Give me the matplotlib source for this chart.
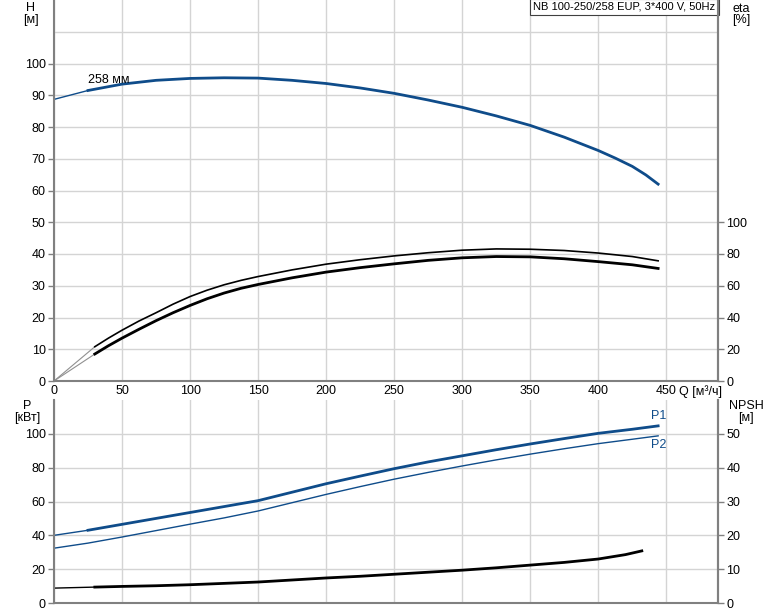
#!/usr/bin/env python3
"""Pump curve sheet: NB 100-250/258 EUP - H, eta, P1/P2 and NPSH vs flow."""

import matplotlib
matplotlib.use('Agg')
import matplotlib.pyplot as plt

plt.rcParams['font.family'] = ['Liberation Sans', 'DejaVu Sans']
plt.rcParams['font.size'] = 9

# Flow rates, m3/h
Q_H = [0, 25, 50, 75, 100, 125, 150, 175, 200, 225, 250, 275, 300, 325, 350, 375, 400, 412.5, 425, 435, 444]
H = [88.7, 91.5, 93.5, 94.7, 95.3, 95.5, 95.4, 94.7, 93.7, 92.3, 90.6, 88.5, 86.2, 83.5, 80.5, 76.8,
     72.6, 70.2, 67.6, 64.9, 62.0]

# efficiency curves, %
Q_ETA = [30, 40, 50, 62.5, 75, 87.5, 100, 112.5, 125, 137.5, 150, 175, 200, 225, 250, 275, 300, 325,
         350, 375, 400, 425, 444]
ETA_UPPER = [21.6, 27.0, 32.0, 37.8, 43.0, 48.4, 53.2, 57.2, 60.6, 63.4, 65.8, 70.0, 73.6, 76.4,
             78.8, 80.8, 82.4, 83.2, 83.0, 82.2, 80.6, 78.4, 75.7]
ETA_LOWER = [17.0, 22.2, 27.0, 32.6, 38.0, 43.0, 47.6, 51.8, 55.4, 58.4, 60.8, 65.0, 68.6, 71.4,
             73.8, 76.0, 77.6, 78.4, 78.2, 77.0, 75.2, 73.2, 70.9]

# power, kW
Q_P = [0, 25, 50, 75, 100, 125, 150, 175, 200, 225, 250, 275, 300, 325, 350, 375, 400, 425, 444]
P1 = [40.0, 43.0, 46.5, 50.0, 53.5, 57.0, 60.5, 65.5, 70.5, 75.0, 79.4, 83.4, 87.0, 90.6, 94.0,
      97.2, 100.3, 102.7, 104.7]
P2 = [32.4, 35.4, 39.0, 42.8, 46.6, 50.3, 54.4, 59.3, 64.2, 68.8, 73.2, 77.2, 81.0, 84.6, 88.0,
      91.2, 94.2, 96.8, 98.8]

# NPSH, m
Q_NPSH = [0, 30, 50, 75, 100, 125, 150, 175, 200, 225, 250, 275, 300, 325, 350, 375, 400, 420, 432]
NPSH = [4.4, 4.7, 4.9, 5.1, 5.4, 5.8, 6.2, 6.8, 7.4, 7.9, 8.5, 9.1, 9.7, 10.4, 11.2, 12.0, 13.0,
        14.3, 15.4]

THICK_FROM = 30  # curves are drawn thin below this flow
BLUE = '#0f4c8a'
GRID = '#d4d4d4'
SPINE = '#808080'

W, HGT = 774, 611
fig = plt.figure(figsize=(W / 100, HGT / 100), dpi=100)

left = 54 / W
width = (718 - 54) / W
ax1 = fig.add_axes([left, 1 - 381 / HGT, width, 381 / HGT])
ax2 = fig.add_axes([left, 1 - 603 / HGT, width, (603 - 400) / HGT])


def split(q, v):
    """Return (thin part, thick part) of a curve."""
    thin_q = [x for x in q if x <= THICK_FROM]
    thin_v = v[:len(thin_q)]
    i0 = len(thin_q) - 1
    return (thin_q, thin_v), (q[i0:], v[i0:])


def style_axes(ax, ymax):
    ax.set_xlim(0, 488)
    ax.set_ylim(0, ymax)
    ax.grid(True, color=GRID, linewidth=1)
    ax.set_axisbelow(True)
    for s in ('left', 'bottom', 'right'):
        ax.spines[s].set_color(SPINE)
        ax.spines[s].set_linewidth(1.5)
    ax.spines['top'].set_visible(False)
    ax.tick_params(direction='out', length=4, width=1, color=SPINE, pad=2)


def style_right(ax):
    ax.spines['right'].set_color(SPINE)
    ax.spines['right'].set_linewidth(1.5)
    for s in ('left', 'top', 'bottom'):
        ax.spines[s].set_visible(False)
    ax.tick_params(direction='out', length=4, width=1, color=SPINE, pad=2)


# ---- top: head + efficiency
style_axes(ax1, 120)
ax1.set_yticks(range(0, 101, 10))
ax1.axhline(110, color=GRID, linewidth=1, zorder=0)
ax1.set_xticks(range(0, 451, 50))
ax1.tick_params(axis='x', length=0, pad=3)

(tq, tv), (kq, kv) = split(Q_H, H)
ax1.plot(tq, tv, color=BLUE, linewidth=1)
ax1.plot(kq, kv, color=BLUE, linewidth=2)
ax1.text(25, 92.8, '258 мм', fontsize=9, ha='left', va='bottom')

ax1.plot([0, Q_ETA[0]], [0, ETA_UPPER[0] / 2], color='#909090', linewidth=0.8)
ax1.plot([0, Q_ETA[0]], [0, ETA_LOWER[0] / 2], color='#909090', linewidth=0.8)
ax1.plot(Q_ETA, [v / 2 for v in ETA_UPPER], color='black', linewidth=1.2)
ax1.plot(Q_ETA, [v / 2 for v in ETA_LOWER], color='black', linewidth=2)

ax1r = ax1.twinx()
ax1r.set_ylim(0, 240)
ax1r.set_yticks(range(0, 101, 20))
style_right(ax1r)

ax1.text(0.996, 0.995, 'NB 100-250/258 EUP, 3*400 V, 50Hz', transform=ax1.transAxes,
         ha='right', va='top', fontsize=8,
         bbox=dict(boxstyle='square,pad=0.3', facecolor='white', edgecolor='#404040', linewidth=0.8))

fig.text(31 / W, 1 - 8 / HGT, 'H', ha='center', va='center')
fig.text(31 / W, 1 - 20 / HGT, '[м]', ha='center', va='center')
fig.text(741 / W, 1 - 9 / HGT, 'eta', ha='center', va='center')
fig.text(741 / W, 1 - 20 / HGT, '[%]', ha='center', va='center')
fig.text(679 / W, 1 - 392 / HGT, 'Q [м³/ч]', ha='left', va='center')

# ---- bottom: power + NPSH
style_axes(ax2, 120)
ax2.set_yticks(range(0, 101, 20))
ax2.set_xticks(range(0, 451, 50))
ax2.tick_params(axis='x', length=0, labelbottom=False)

(tq, tv), (kq, kv) = split(Q_P, P1)
ax2.plot(tq, tv, color=BLUE, linewidth=1)
ax2.plot(kq, kv, color=BLUE, linewidth=2)
ax2.plot(Q_P, P2, color=BLUE, linewidth=1)
ax2.text(Q_P[-1] - 5, P1[-1] + 2, 'P1', color=BLUE, ha='left', va='bottom')
ax2.text(Q_P[-1] - 5, P2[-1] - 2, 'P2', color=BLUE, ha='left', va='top')

npsh_p = [v * 2 for v in NPSH]
(tq, tv), (kq, kv) = split(Q_NPSH, npsh_p)
ax2.plot(tq, tv, color='black', linewidth=1)
ax2.plot(kq, kv, color='black', linewidth=2)

ax2r = ax2.twinx()
ax2r.set_ylim(0, 60)
ax2r.set_yticks(range(0, 51, 10))
style_right(ax2r)

fig.text(27 / W, 1 - 406 / HGT, 'P', ha='center', va='center')
fig.text(27 / W, 1 - 418 / HGT, '[кВт]', ha='center', va='center')
fig.text(746 / W, 1 - 406 / HGT, 'NPSH', ha='center', va='center')
fig.text(746 / W, 1 - 418 / HGT, '[м]', ha='center', va='center')

fig.savefig('out.png', dpi=100)
